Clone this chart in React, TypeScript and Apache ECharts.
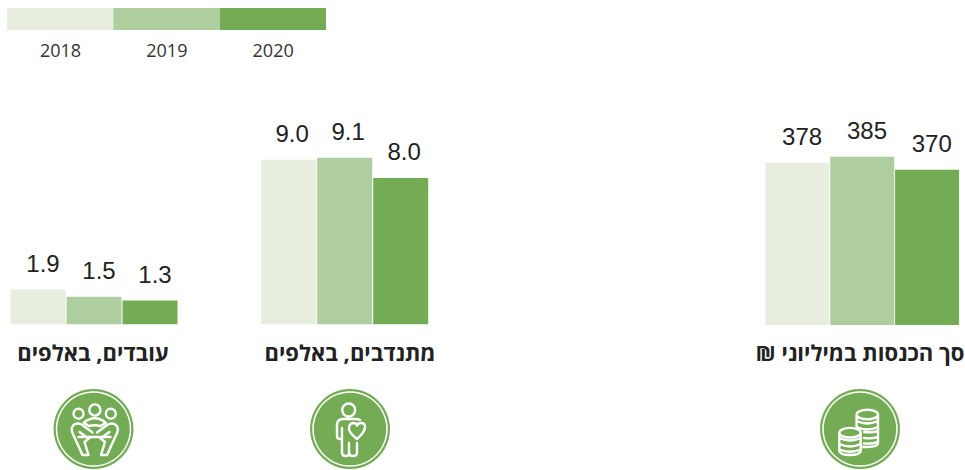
import React, { useEffect, useRef } from "react";
import * as echarts from "echarts";

const years = ["2018", "2019", "2020"];
const employees = [1.9, 1.5, 1.3];
const volunteers = [9.0, 9.1, 8.0];
const revenue = [378, 385, 370];
const titles = ["עובדים, באלפים", "מתנדבים, באלפים", "סך הכנסות במיליוני ₪"];
const colors = ["#e7eedf", "#aece9f", "#74ac56"];

const peopleIcon =
  "M-10,-15.3 A5,5 0 1 1 -20,-15.3 A5,5 0 1 1 -10,-15.3 Z " +
  "M7,-19 A5.6,5.6 0 1 1 -4.2,-19 A5.6,5.6 0 1 1 7,-19 Z " +
  "M22.3,-15.3 A5,5 0 1 1 12.3,-15.3 A5,5 0 1 1 22.3,-15.3 Z " +
  "M-9.7,-6.3 Q1.3,-15 12.3,-6.3 L7,-3 Q1.3,-4.5 -4.5,-3 Z " +
  "M-1,3.5 L-11,-4 Q-16,-7 -20,-4 Q-23,-1 -21,4 L-11,26 L-5,26 L-9,13 L-3,8 " +
  "M3.5,3.5 L13.5,-4 Q18.5,-7 22.5,-4 Q25.5,-1 23.5,4 L13.5,26 L7.5,26 L11.5,13 L5.5,8 " +
  "M-15,8 L17,8 M-14,3 L-7,8 M16,3 L9,8";

const volunteerIcon =
  "M5.2,-19 A6.5,6.5 0 1 1 -7.8,-19 A6.5,6.5 0 1 1 5.2,-19 Z " +
  "M10,-9 Q8,-10 6,-10 L-7,-10 Q-12,-10 -13,-5 L-13,7 Q-13,10 -10,10 L-8,10 L-8,24 Q-8,27 -4,27 Q-1,27 -1,24 L-1,14 L-1,24 Q-1,27 3,27 Q7,27 7,24 L7,14 " +
  "M-8,10 L-8,-1 " +
  "M7,10 Q-2,3 -1,-2 Q0,-6 4,-6 Q6,-6 7,-3.5 Q8,-6 11,-6 Q15,-6 15,-2 Q15,3 7,10 Z";

const coinsIcon =
  "M18,-14.5 A10.7,4.8 0 1 1 -3.4,-14.5 A10.7,4.8 0 1 1 18,-14.5 Z " +
  "M-3.4,-14.5 L-3.4,-1 M18,-14.5 L18,14 Q18,18 7,18 L2,18 " +
  "M-3.4,-8 Q7,-3 18,-8 M-3.4,-2 Q7,3 18,-2 M4,3 Q12,4 18,2 M4,9 Q12,10 18,8 M4,14.5 Q12,15 18,13 " +
  "M0.7,3.7 A10.7,4.8 0 1 1 -20.7,3.7 A10.7,4.8 0 1 1 0.7,3.7 Z " +
  "M-20.7,3.7 L-20.7,22 Q-20,26 -10,26 Q0,26 0.7,22 L0.7,3.7 " +
  "M-20.7,9 Q-10,14 0.7,9 M-20.7,15 Q-10,20 0.7,15 M-20.7,20.5 Q-10,25 0.7,20.5";

echarts.graphic.registerShape("peopleIcon", echarts.graphic.extendPath(peopleIcon, {}));
echarts.graphic.registerShape("volunteerIcon", echarts.graphic.extendPath(volunteerIcon, {}));
echarts.graphic.registerShape("coinsIcon", echarts.graphic.extendPath(coinsIcon, {}));

const panels = [
  { left: 10, width: 168, top: 100, height: 224.3, min: 0, max: 12.26, barWidth: 55, data: employees, decimals: 1, dx: 5 },
  { left: 260.7, width: 168, top: 100, height: 224.3, min: 0, max: 12.26, barWidth: 55, data: volunteers, decimals: 1, dx: 3.5 },
  { left: 765, width: 194.5, top: 100, height: 225, min: 191, max: 450.5, barWidth: 64, data: revenue, decimals: 0, dx: 4.7 },
];

const titleCenters = [93, 350, 860];
const iconCenters = [93.5, 350, 860];
const iconTypes = ["peopleIcon", "volunteerIcon", "coinsIcon"];

export default function App() {
  const ref = useRef<HTMLDivElement>(null);
  useEffect(() => {
    document.body.style.margin = "0";
    const chart = echarts.init(ref.current!, undefined, { renderer: "svg" });
    const graphic: any[] = [];
    years.forEach((y, i) => {
      graphic.push({
        type: "rect",
        shape: { x: 7 + i * 106.33, y: 8, width: 106.33, height: 22 },
        style: { fill: colors[i] },
      });
      graphic.push({
        type: "text",
        x: 60.5 + i * 106.33,
        y: 50,
        style: {
          text: y,
          fill: "#333333",
          font: "18px 'Open Sans'",
          textAlign: "center",
          textVerticalAlign: "middle",
        },
      });
    });
    titles.forEach((t, i) => {
      graphic.push({
        type: "text",
        x: titleCenters[i],
        y: 352,
        style: {
          text: t,
          fill: "#222222",
          font: "bold 22px 'Open Sans'",
          textAlign: "center",
          textVerticalAlign: "middle",
        },
      });
      const cx = iconCenters[i];
      graphic.push({ type: "circle", shape: { cx, cy: 429, r: 40 }, style: { fill: colors[2] } });
      graphic.push({
        type: "circle",
        shape: { cx, cy: 429, r: 37 },
        style: { fill: "none", stroke: "#ffffff", lineWidth: 1.5 },
      });
      graphic.push({
        type: iconTypes[i],
        x: cx,
        y: 429,
        style: { fill: "none", stroke: "#ffffff", lineWidth: 2.4, lineJoin: "round", lineCap: "round" },
      });
    });

    chart.setOption({
      animation: false,
      grid: panels.map((p) => ({ left: p.left, width: p.width, top: p.top, height: p.height })),
      xAxis: panels.map((_, i) => ({ type: "category", gridIndex: i, data: years, show: false })),
      yAxis: panels.map((p, i) => ({ type: "value", gridIndex: i, min: p.min, max: p.max, show: false })),
      series: panels.map((p, i) => ({
        type: "bar",
        xAxisIndex: i,
        yAxisIndex: i,
        barWidth: p.barWidth,
        data: p.data.map((v, k) => ({ value: v, itemStyle: { color: colors[k] } })),
        label: {
          show: true,
          position: "top",
          distance: 14,
          offset: [p.dx, 0],
          color: "#222222",
          fontFamily: "'Liberation Sans', Arial",
          fontSize: 24,
          formatter: (o: any) => Number(o.value).toFixed(p.decimals),
        },
      })),
      graphic,
    });
    return () => chart.dispose();
  }, []);
  return (
    <div
      ref={ref}
      dir="rtl"
      style={{ position: "absolute", left: 0, top: 0, width: 965, height: 470 }}
    />
  );
}
